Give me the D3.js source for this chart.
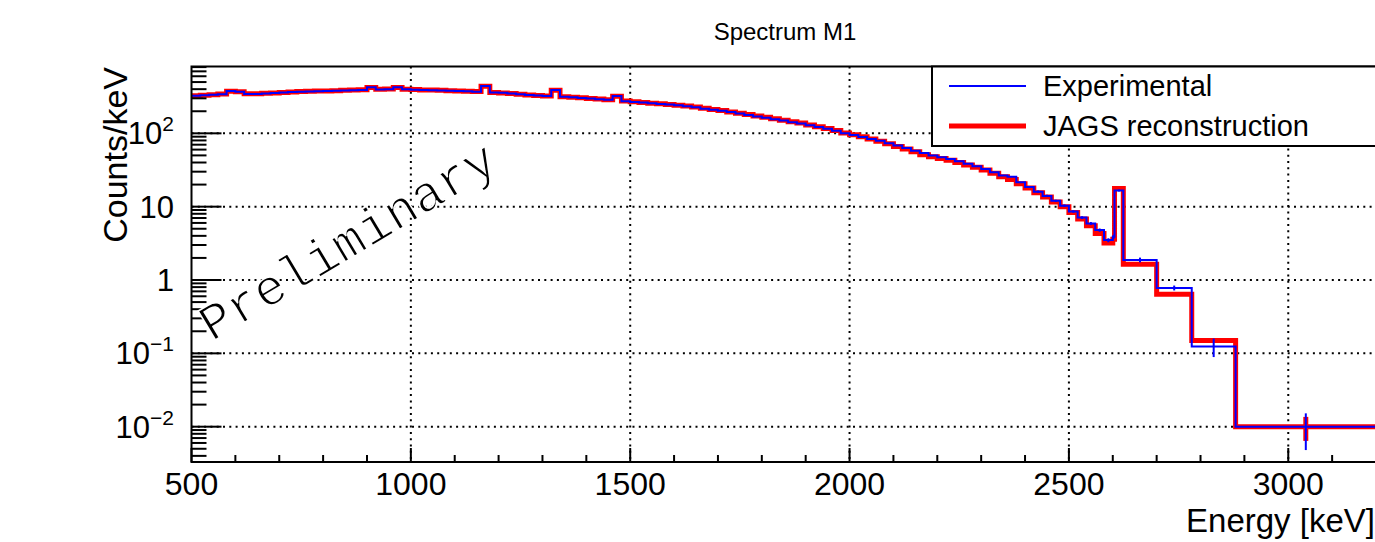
<!DOCTYPE html>
<html>
<head>
<meta charset="utf-8">
<script src="https://cdn.jsdelivr.net/npm/d3@7"></script>
<style>
  body { margin: 0; background: #fff; }
  svg { display: block; font-family: "Liberation Sans", Arial, sans-serif; }
</style>
</head>
<body>
<svg class="chart"></svg>
<script>
// 20 keV bins from 500 to 2600 keV
const lowStart = 500, lowEnd = 2600, lowStep = 20
const experimental = [
  325, 330, 336, 342, 378, 370, 344, 345, 350, 355,
  360, 366, 369, 372, 376, 378, 381, 384, 388, 391,
  424, 396, 400, 424, 398, 394, 390, 388, 385, 381,
  378, 374, 370, 442, 360, 357, 350, 340, 333, 328,
  323, 390, 315, 310, 304, 298, 292, 286, 323, 274,
  268, 263, 257, 252, 247, 241, 234, 226, 217, 210,
  203, 195, 186, 178, 170, 163, 156, 149, 142, 136,
  129, 122, 115, 108, 100, 95, 89, 84, 79, 73,
  68, 63, 58, 54, 50, 47, 44.5, 41.5, 38.5, 35.5,
  32.5, 29.5, 26.5, 25.5, 21.5, 18.5, 16, 14, 12, 10.3,
  8.6, 7.1, 5.9, 4.8, 3.5
]
const reconstruction = [
  326, 331, 337, 343, 376, 369, 346, 347, 351, 356,
  361, 367, 371, 374, 377, 379, 382, 386, 389, 393,
  422, 398, 401, 421, 399, 395, 391, 389, 386, 382,
  379, 375, 371, 438, 361, 356, 349, 341, 334, 327,
  322, 386, 316, 311, 305, 299, 293, 287, 320, 276,
  270, 264, 258, 253, 248, 242, 236, 228, 219, 212,
  204, 196, 188, 180, 172, 165, 158, 151, 144, 138,
  130, 123, 116, 109, 101, 96, 90, 84, 78, 72,
  66, 61, 56, 51, 48, 45.5, 43, 40, 37, 34.5,
  31.5, 28.5, 25.5, 23.5, 20.5, 18, 15.5, 13.5, 11.6, 10,
  8.3, 6.8, 5.5, 4.3, 3.2
]
// errors drawn on the last low bins (2400-2600 keV)
const lowErrStart = 2400
const experimentalLowErr = [0.6, 0.55, 0.5, 0.45, 0.4, 0.36, 0.32, 0.28, 0.25, 0.22]

// wide bins of the high-energy tail
const tailEdges = [2600, 2604, 2624, 2700, 2780, 2880, 3200]
const tailExperimental = [3.9, 16.6, 1.88, 0.78, 0.124, 0.0100]
const tailReconstruction = [3.6, 17.7, 1.64, 0.64, 0.150, 0.0100]
const tailExperimentalErr = [0.25, 0.5, 0.14, 0.06, 0.035, 0.0052]
const tailReconstructionErr = [0, 0, 0, 0, 0, 0.0036]

const xTicks = [500, 1000, 1500, 2000, 2500, 3000]
const yDecades = [0.01, 0.1, 1, 10, 100]
const yTickLabels = [["10", "\u22122"], ["10", "\u22121"], ["1", ""], ["10", ""], ["10", "2"]]
const legendLabels = ["Experimental", "JAGS reconstruction"]

const width = 1375, height = 542
const margin = { left: 191.5, top: 66.5, bottom: 462 }
const plotRight = 1376

const svg = d3.select('.chart')
  .attr('width', width)
  .attr('height', height)

const x = d3.scaleLinear().domain([500, 3200]).range([margin.left, plotRight])
const y = d3.scaleLog().domain([0.0033, 815]).range([margin.bottom, margin.top])

const edges = d3.range(lowStart, lowEnd + 1, lowStep).concat(tailEdges.slice(1))
const expValues = experimental.concat(tailExperimental)
const recValues = reconstruction.concat(tailReconstruction)

function binsOf(values, errs) {
  return values.map((v, i) => ({ x0: edges[i], x1: edges[i + 1], v, e: errs ? errs[i] : 0 }))
}

const nLow = experimental.length
const firstErr = (lowErrStart - lowStart) / lowStep
const expErrs = edges.slice(0, -1).map((_, i) => {
  if (i >= nLow) return tailExperimentalErr[i - nLow]
  if (i >= firstErr) return experimentalLowErr[i - firstErr]
  return 0
})
const recErrs = edges.slice(0, -1).map((_, i) => i >= nLow ? tailReconstructionErr[i - nLow] : 0)

const expBins = binsOf(expValues, expErrs)
const recBins = binsOf(recValues, recErrs)

svg.append('clipPath').attr('id', 'plot-clip')
  .append('rect')
  .attr('x', margin.left).attr('y', margin.top)
  .attr('width', plotRight - margin.left).attr('height', margin.bottom - margin.top)

// grid
const grid = svg.append('g').attr('class', 'grid')
  .attr('stroke', '#000').attr('stroke-width', 2).attr('stroke-dasharray', '2 4.3')
grid.selectAll('.vgrid').data(xTicks.slice(1)).enter().append('line')
  .attr('x1', d => x(d)).attr('x2', d => x(d))
  .attr('y1', margin.top).attr('y2', margin.bottom)
grid.selectAll('.hgrid').data(yDecades).enter().append('line')
  .attr('x1', margin.left).attr('x2', plotRight)
  .attr('y1', d => y(d)).attr('y2', d => y(d))

// histograms
const histLine = d3.line().x(d => x(d[0])).y(d => y(d[1]))
function stepPoints(bins) {
  const pts = []
  bins.forEach(b => { pts.push([b.x0, b.v]); pts.push([b.x1, b.v]) })
  return pts
}

const plot = svg.append('g').attr('clip-path', 'url(#plot-clip)')

function drawHist(bins, color, lw) {
  plot.append('path')
    .datum(stepPoints(bins))
    .attr('fill', 'none')
    .attr('stroke', color)
    .attr('stroke-width', lw)
    .attr('stroke-linejoin', 'miter')
    .attr('d', histLine)
  plot.append('g').selectAll('line')
    .data(bins.filter(b => b.e > 0))
    .enter().append('line')
    .attr('stroke', color)
    .attr('stroke-width', lw)
    .attr('x1', b => x((b.x0 + b.x1) / 2)).attr('x2', b => x((b.x0 + b.x1) / 2))
    .attr('y1', b => y(Math.max(b.v - b.e, 0.0033))).attr('y2', b => y(b.v + b.e))
}
drawHist(recBins, '#ff0000', 5)
drawHist(expBins, '#0000ff', 2)

// axes ticks
const axes = svg.append('g').attr('stroke', '#000').attr('stroke-width', 2)
const xMinor = d3.range(600, 3200, 100).filter(d => d % 500 !== 0)
axes.selectAll('.xmaj').data(xTicks).enter().append('line')
  .attr('x1', d => x(d)).attr('x2', d => x(d))
  .attr('y1', margin.bottom).attr('y2', margin.bottom - 14)
axes.selectAll('.xmin').data(xMinor).enter().append('line')
  .attr('x1', d => x(d)).attr('x2', d => x(d))
  .attr('y1', margin.bottom).attr('y2', margin.bottom - 7)

const yMinor = []
;[0.001, 0.01, 0.1, 1, 10, 100].forEach(dec => {
  d3.range(2, 10).forEach(m => {
    const v = dec * m
    if (v > 0.0033 && v < 815) yMinor.push(v)
  })
})
axes.selectAll('.ymaj').data(yDecades).enter().append('line')
  .attr('x1', margin.left).attr('x2', margin.left + 30)
  .attr('y1', d => y(d)).attr('y2', d => y(d))
axes.selectAll('.ymin').data(yMinor).enter().append('line')
  .attr('x1', margin.left).attr('x2', margin.left + 15)
  .attr('y1', d => y(d)).attr('y2', d => y(d))

// frame
svg.append('rect')
  .attr('x', margin.left).attr('y', margin.top)
  .attr('width', plotRight - margin.left).attr('height', margin.bottom - margin.top)
  .attr('fill', 'none').attr('stroke', '#000').attr('stroke-width', 2)

// tick labels
svg.append('g').selectAll('text').data(xTicks).enter().append('text')
  .attr('x', d => x(d)).attr('y', 495)
  .attr('text-anchor', 'middle')
  .attr('font-size', 32)
  .text(d => d)

const yLab = svg.append('g').selectAll('text').data(yDecades).enter().append('text')
  .attr('x', 174).attr('y', d => y(d) + 11)
  .attr('text-anchor', 'end')
  .attr('font-size', 31)
yLab.append('tspan').text((d, i) => yTickLabels[i][0])
yLab.append('tspan')
  .attr('font-size', 21)
  .attr('dy', -13)
  .text((d, i) => yTickLabels[i][1])

// axis titles
svg.append('text')
  .attr('x', 1375).attr('y', 532)
  .attr('text-anchor', 'end')
  .attr('font-size', 33)
  .text('Energy [keV]')

svg.append('text')
  .attr('transform', 'translate(127,67) rotate(-90)')
  .attr('text-anchor', 'end')
  .attr('font-size', 34)
  .text('Counts/keV')

svg.append('text')
  .attr('x', 785).attr('y', 40)
  .attr('text-anchor', 'middle')
  .attr('font-size', 24)
  .text('Spectrum M1')

// legend
const legend = svg.append('g')
legend.append('rect')
  .attr('x', 932).attr('y', 66.5).attr('width', 460).attr('height', 79.5)
  .attr('fill', '#fff').attr('stroke', '#000').attr('stroke-width', 2)
const legendColors = ['#0000ff', '#ff0000']
const legendWidths = [2, 5]
const legendY = [86, 126]
legendLabels.forEach((label, i) => {
  legend.append('line')
    .attr('x1', 949).attr('x2', 1026)
    .attr('y1', legendY[i]).attr('y2', legendY[i])
    .attr('stroke', legendColors[i]).attr('stroke-width', legendWidths[i])
  legend.append('text')
    .attr('x', 1043).attr('y', legendY[i] + 9.5)
    .attr('font-size', 29)
    .text(label)
})

// watermark, thinned with a white outline to look like Courier
svg.append('text')
  .attr('transform', 'translate(212,342) rotate(-31)')
  .attr('font-family', '"Liberation Mono", "Courier New", monospace')
  .attr('font-size', 51)
  .attr('fill', '#000')
  .attr('stroke', '#fff')
  .attr('stroke-width', 1.6)
  .text('Preliminary')
</script>
</body>
</html>
